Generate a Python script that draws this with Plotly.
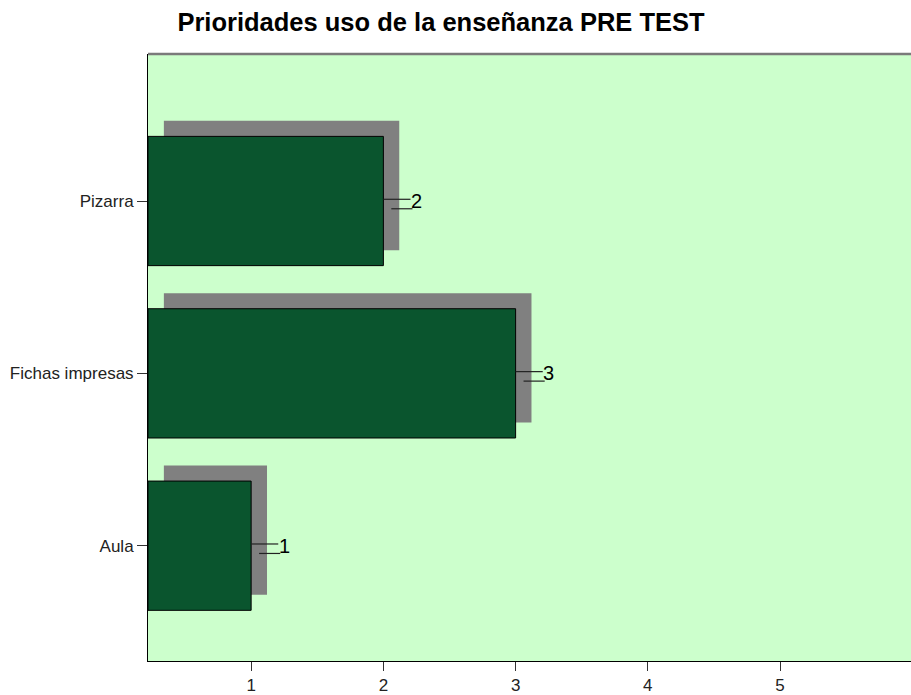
import plotly.graph_objects as go

categories = ["Aula", "Fichas impresas", "Pizarra"]
values = [1, 3, 2]
value_labels = ["1", "3", "2"]
x_tick_vals = [1, 2, 3, 4, 5]

XMIN, XMAX = 0.22, 5.99
YMIN, YMAX = -0.669, 2.853
DX = 0.12   # shadow offset (x units)
DY = 0.09   # shadow offset (y units)
BAR_W = 0.75

W, H = 911, 695

ypos = list(range(len(categories)))

fig = go.Figure()
# shadow bars
fig.add_trace(go.Bar(
    y=[y + DY for y in ypos], x=[v - XMIN for v in values], base=XMIN + DX,
    orientation="h", width=BAR_W, marker=dict(color="#808080", line=dict(width=0)),
    hoverinfo="skip", showlegend=False))
# main bars
fig.add_trace(go.Bar(
    y=ypos, x=[v - XMIN for v in values], base=XMIN,
    orientation="h", width=BAR_W, marker=dict(color="#0a552e", line=dict(color="#000000", width=1)),
    showlegend=False))

shapes = []
annotations = []
for y, v, lab in zip(ypos, values, value_labels):
    shapes.append(dict(type="line", xref="x", yref="y", x0=v, x1=v + 0.205, y0=y + 0.01, y1=y + 0.01,
                       line=dict(color="#222222", width=1.2)))
    shapes.append(dict(type="line", xref="x", yref="y", x0=v + 0.06, x1=v + 0.22, y0=y - 0.045, y1=y - 0.045,
                       line=dict(color="#222222", width=1.2)))
    annotations.append(dict(x=v + 0.195, y=y + 0.0, xref="x", yref="y", text=lab, showarrow=False,
                            xanchor="left", yanchor="middle",
                            font=dict(family="Liberation Sans, Arial", size=20, color="#000000")))

# top border
shapes.append(dict(type="line", xref="paper", yref="paper", x0=0, x1=1, y0=1, y1=1,
                   line=dict(color="#7a7a7a", width=2.5)))

fig.update_layout(
    width=W, height=H,
    margin=dict(l=148, r=0, t=54, b=30, pad=0),
    paper_bgcolor="white", plot_bgcolor="#ccffcc",
    barmode="overlay",
    title=dict(text="<b>Prioridades uso de la enseñanza PRE TEST</b>", x=441 / W, xref="container",
               xanchor="center", y=1 - 22 / H, yref="container", yanchor="middle",
               font=dict(family="Liberation Sans, Arial", size=25.5, color="#000000")),
    shapes=shapes, annotations=annotations,
    font=dict(family="Liberation Sans, Arial", size=17, color="#222222"),
)
fig.update_xaxes(range=[XMIN, XMAX], tickvals=x_tick_vals, ticks="outside", ticklen=9, tickwidth=1,
                 tickcolor="#333333", showgrid=False, zeroline=False, showline=True, linecolor="#000000",
                 linewidth=1, tickfont=dict(size=17, color="#222222"))
fig.update_yaxes(range=[YMIN, YMAX], tickvals=ypos, ticktext=categories, ticks="outside", ticklen=10,
                 tickwidth=1, tickcolor="#333333", showgrid=False, zeroline=False, showline=True,
                 linecolor="#000000", linewidth=1, tickfont=dict(size=17, color="#222222"))

fig.write_html("out.html", config={"displayModeBar": False},
               post_script="document.body.style.margin='0';document.body.style.overflow='hidden';")
